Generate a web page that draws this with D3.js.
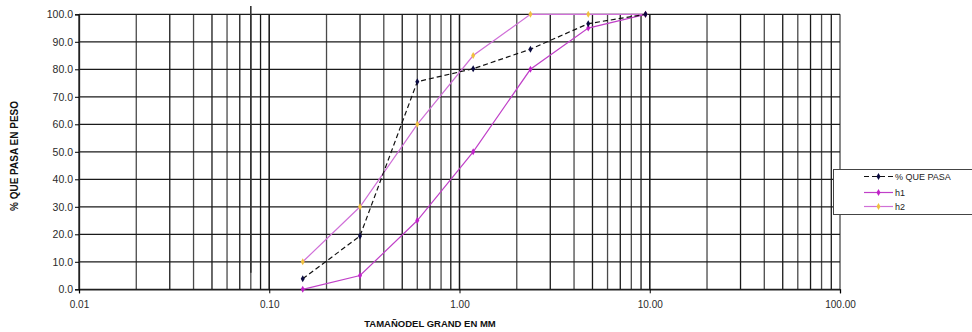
<!DOCTYPE html>
<html><head><meta charset="utf-8">
<script src="https://cdn.jsdelivr.net/npm/d3@7"></script>
<style>
body{margin:0;background:#fff;}
text{font-family:"Liberation Sans",Arial,sans-serif;}
</style></head>
<body><svg id="c" width="972" height="332"></svg>
<script>
const sizes = [0.15, 0.30, 0.60, 1.18, 2.36, 4.75, 9.50];
const quePasa = [3.8, 19.4, 75.5, 80.2, 87.3, 96.6, 100];
const h1 = [0, 5, 25, 50, 80, 95, 100];
const h2 = [10, 30, 60, 85, 100, 100, 100];
const xTickLabels = ["0.01", "0.10", "1.00", "10.00", "100.00"];
const yTicks = [0,10,20,30,40,50,60,70,80,90,100];
const seriesNames = ["% QUE PASA", "h1", "h2"];

const svg = d3.select("#c");
const x = d3.scaleLog().domain([0.01, 100]).range([79, 840]);
const y = d3.scaleLinear().domain([0, 100]).range([289.3, 14.3]);

// vertical grid lines
const vgrid = [];
[0.01, 0.1, 1, 10].forEach(d => { for (let k = 1; k <= 10; k++) vgrid.push(d * k); });
svg.append("g").selectAll("line").data(vgrid).join("line")
  .attr("x1", d => x(d)).attr("x2", d => x(d))
  .attr("y1", y(0)).attr("y2", y(100))
  .attr("stroke", (d, i) => i % 2 ? "#4a4a4a" : "#1a1a1a").attr("stroke-width", 1.3);

// horizontal grid lines
svg.append("g").selectAll("line").data(yTicks).join("line")
  .attr("x1", x(0.01)).attr("x2", x(100))
  .attr("y1", d => y(d)).attr("y2", d => y(d))
  .attr("stroke", "#1a1a1a").attr("stroke-width", 1.3);

// stray marker line
svg.append("line").attr("x1", x(0.08)).attr("x2", x(0.08))
  .attr("y1", y(103)).attr("y2", y(6)).attr("stroke", "#333").attr("stroke-width", 1.6);

// axes
const yAxis = d3.axisLeft(y).tickValues(yTicks).tickFormat(d3.format(".1f")).tickSize(4).tickPadding(2);
const gy = svg.append("g").attr("transform", `translate(${x(0.01)},0)`).call(yAxis);
gy.select(".domain").attr("stroke", "#222").attr("stroke-width", 1.3);
gy.selectAll("text").attr("font-size", 10.5).attr("fill", "#2a2a2a");

const xAxis = d3.axisBottom(x).tickValues([0.01, 0.1, 1, 10, 100])
  .tickFormat((d, i) => xTickLabels[i]).tickSize(4).tickPadding(8);
const gx = svg.append("g").attr("transform", `translate(0,${y(0)})`).call(xAxis);
gx.select(".domain").attr("stroke", "#222").attr("stroke-width", 1.3);
gx.selectAll("text").attr("font-size", 10).attr("fill", "#2a2a2a");

// titles
svg.append("text").attr("x", 430).attr("y", 327).attr("text-anchor", "middle")
  .attr("font-size", 9.5).attr("font-weight", "bold").attr("fill", "#111").text("TAMAÑODEL GRAND EN MM");
svg.append("text").attr("transform", "translate(18,156) rotate(-90)").attr("text-anchor", "middle")
  .attr("font-size", 10).attr("font-weight", "bold").attr("fill", "#111").text("% QUE PASA EN PESO");

// series
const line = d3.line().x(d => x(d[0])).y(d => y(d[1]));
const diamond = d3.symbol().type(d3.symbolDiamond).size(14);
const series = [
  {name: seriesNames[0], vals: quePasa, stroke: "#111", dash: "5,3", mark: "#0a0a40", w: 1.2},
  {name: seriesNames[1], vals: h1, stroke: "#c040c8", dash: null, mark: "#c020c8", w: 1.2},
  {name: seriesNames[2], vals: h2, stroke: "#d070d8", dash: null, mark: "#f0c040", w: 1.2}
];
series.slice().reverse().forEach(s => {
  const pts = sizes.map((d, i) => [d, s.vals[i]]);
  svg.append("path").datum(pts).attr("d", line).attr("fill", "none")
    .attr("stroke", s.stroke).attr("stroke-width", s.w).attr("stroke-dasharray", s.dash);
  svg.append("g").selectAll("path").data(pts).join("path")
    .attr("transform", d => `translate(${x(d[0])},${y(d[1])})`).attr("d", diamond).attr("fill", s.mark);
});

// legend
const lg = svg.append("g");
lg.append("rect").attr("x", 833.5).attr("y", 169.5).attr("width", 145).attr("height", 45)
  .attr("fill", "#fff").attr("stroke", "#444").attr("stroke-width", 1);
const rows = [176.5, 192.5, 206.5];
series.forEach((s, i) => {
  lg.append("line").attr("x1", 864).attr("x2", 893).attr("y1", rows[i]).attr("y2", rows[i])
    .attr("stroke", s.stroke).attr("stroke-width", 1.2).attr("stroke-dasharray", s.dash);
  lg.append("path").attr("transform", `translate(878.5,${rows[i]})`).attr("d", diamond).attr("fill", s.mark);
  lg.append("text").attr("x", 895).attr("y", rows[i] + 3.5).attr("font-size", 9).attr("fill", "#222").text(s.name);
});
</script></body></html>
